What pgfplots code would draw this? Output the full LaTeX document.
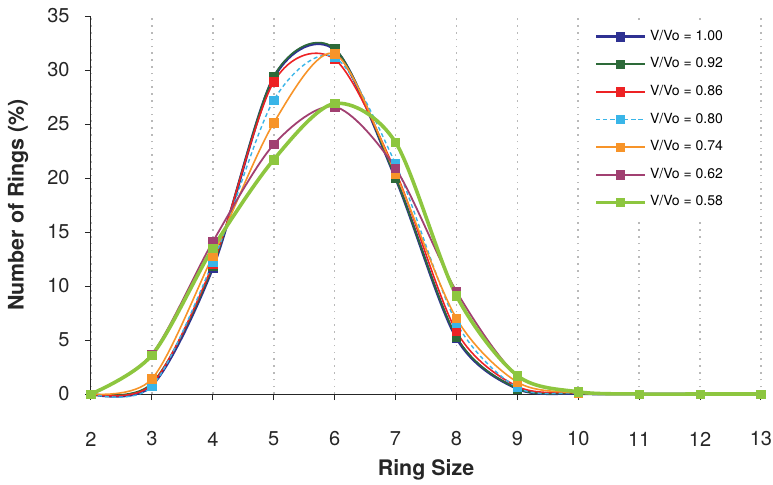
\documentclass[border=0pt]{standalone}
\usepackage{pgfplots}
\pgfplotsset{compat=1.18}
\usepackage{fontspec}
\setmainfont{TeX Gyre Heros}

\definecolor{cA}{RGB}{46,49,146}
\definecolor{cB}{RGB}{45,106,57}
\definecolor{cC}{RGB}{237,34,36}
\definecolor{cD}{RGB}{57,181,232}
\definecolor{cE}{RGB}{247,148,41}
\definecolor{cF}{RGB}{161,64,113}
\definecolor{cG}{RGB}{141,198,63}

\begin{document}
\begin{tikzpicture}
\path[use as bounding box] (-45.5pt,-45pt) rectangle (341pt,197pt);
\begin{axis}[
    anchor=south west, at={(0pt,0pt)},
    scale only axis,
    width=335pt, height=189pt,
    xmin=2, xmax=13, ymin=0, ymax=35,
    xtick={2,...,13}, ytick={0,5,...,35},
    axis lines=left,
    axis line style={-, line width=0.5pt, color=black!85},
    tick style={line width=0.5pt, color=black!85},
    tick align=outside,
    major tick length=3pt,
    xmajorgrids,
    major grid style={dash pattern=on 0.8pt off 2.6pt, line width=0.8pt, color=gray!55},
    clip=false,
    /pgf/number format/assume math mode=true,
    tick label style={font=\fontsize{10}{12}\selectfont, text=black!85},
    xticklabel style={anchor=center, yshift=-19.5pt},
    yticklabel style={anchor=east, inner sep=0pt, xshift=-7.5pt},
    xlabel={Ring Size},
    ylabel={Number of Rings (\%)},
    label style={font=\bfseries\fontsize{10.7}{12}\selectfont, text=black!85},
    xlabel style={at={(axis description cs:0.5,0)}, anchor=center, yshift=-38pt},
    ylabel style={at={(axis description cs:0,0.5)}, anchor=center, rotate=0, yshift=36.5pt},
    legend cell align=left,
    legend style={at={(axis description cs:0.745,0.985)}, anchor=north west,
        draw=none, fill=white, font=\fontsize{7}{8}\selectfont,
        row sep=3.2pt, inner sep=2pt},
    legend image code/.code={
        \draw[mark repeat=2,mark phase=2] plot coordinates {(0pt,0pt) (12pt,0pt) (24pt,0pt)};},
    every axis plot/.append style={smooth, mark=square*, mark size=2.1pt},
]
\addplot[cA, line width=1.4pt, mark options={solid, fill=cA, line width=0.3pt}] coordinates {
    (2,0) (3,0.8) (4,11.7) (5,29.3) (6,31.9) (7,20.0) (8,5.2) (9,0.5) (10,0.05) (11,0) (12,0) (13,0)};
\addplot[cB, line width=0.8pt, mark options={solid, fill=cB, line width=0.3pt}] coordinates {
    (2,0) (3,1.0) (4,11.8) (5,29.4) (6,32.0) (7,20.0) (8,5.3) (9,0.5) (10,0.05) (11,0) (12,0) (13,0)};
\addplot[cC, line width=0.8pt, mark options={solid, fill=cC, line width=0.3pt}] coordinates {
    (2,0) (3,0.9) (4,12.0) (5,28.9) (6,31.0) (7,20.6) (8,5.8) (9,0.7) (10,0.1) (11,0) (12,0) (13,0)};
\addplot[cD, line width=0.7pt, dash pattern=on 2pt off 1.5pt, mark options={solid, fill=cD, line width=0.3pt}] coordinates {
    (2,0) (3,0.7) (4,12.2) (5,27.2) (6,31.2) (7,21.3) (8,6.6) (9,0.6) (10,0.1) (11,0) (12,0) (13,0)};
\addplot[cE, line width=0.8pt, mark options={solid, fill=cE, line width=0.3pt}] coordinates {
    (2,0) (3,1.4) (4,12.8) (5,25.1) (6,31.5) (7,20.4) (8,7.0) (9,1.1) (10,0.1) (11,0) (12,0) (13,0)};
\addplot[cF, line width=0.9pt, mark options={solid, fill=cF, line width=0.3pt}] coordinates {
    (2,0) (3,3.7) (4,14.1) (5,23.1) (6,26.6) (7,20.9) (8,9.5) (9,1.7) (10,0.2) (11,0) (12,0) (13,0)};
\addplot[cG, line width=1.8pt, mark options={solid, fill=cG, line width=0.3pt}] coordinates {
    (2,0) (3,3.6) (4,13.5) (5,21.7) (6,26.9) (7,23.3) (8,9.1) (9,1.7) (10,0.2) (11,0) (12,0) (13,0)};
\legend{V/Vo = 1.00, V/Vo = 0.92, V/Vo = 0.86, V/Vo = 0.80, V/Vo = 0.74, V/Vo = 0.62, V/Vo = 0.58}
\end{axis}
\end{tikzpicture}
\end{document}
